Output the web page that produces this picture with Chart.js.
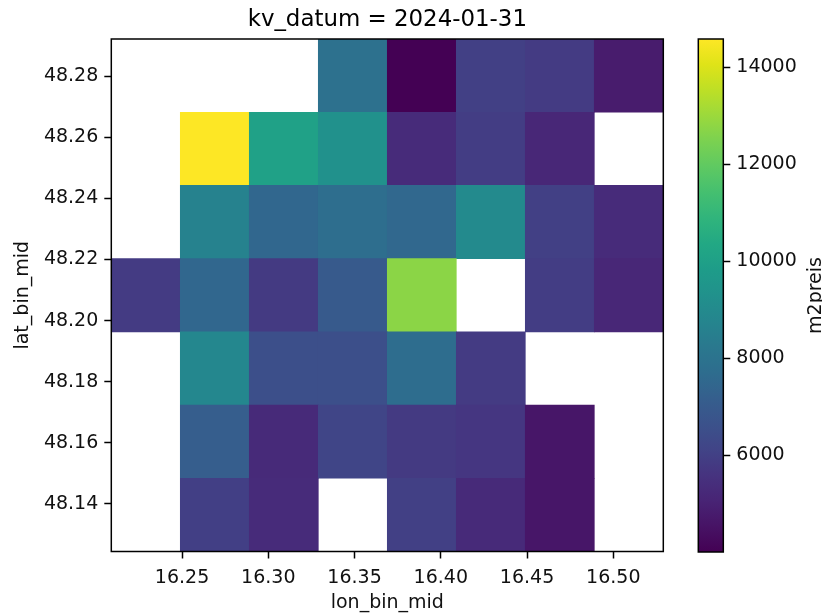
<!DOCTYPE html>
<html>
<head>
<meta charset="utf-8">
<title>m2preis heatmap</title>
<script src="https://cdn.jsdelivr.net/npm/chart.js@4.4.1/dist/chart.umd.min.js"></script>
<style>
  html, body { margin: 0; padding: 0; background: #fff; }
  #wrap { position: relative; width: 822px; height: 614px; overflow: hidden; }
  #heat { position: absolute; left: 0; top: 0; }
  #cbar { position: absolute; left: 690px; top: 0; }
</style>
</head>
<body>
<div id="wrap">
  <canvas id="heat" width="690" height="614"></canvas>
  <canvas id="cbar" width="132" height="614"></canvas>
</div>
<script>
// bin centres
const lonMid = [16.229, 16.269, 16.309, 16.349, 16.389, 16.429, 16.469, 16.509];
const latMid = [48.2803, 48.2563, 48.2323, 48.2083, 48.1843, 48.1603, 48.1363];
const lonStep = 0.04;
const latStep = 0.024;

// m2preis per cell, rows from north (top) to south, null = no data
const m2preis = [
  [null,  null,  null,  7900,  4000,  6000,  5850,  4800],
  [null,  14580, 10030, 9290,  5320,  5900,  5160,  null],
  [null,  8650,  7490,  7760,  7500,  8970,  6000,  5320],
  [5850,  7490,  5800,  6960,  12730, null,  5900,  5160],
  [null,  8870,  6540,  6540,  7700,  5850,  null,  null],
  [null,  7120,  5270,  6170,  5800,  5690,  4630,  null],
  [null,  5960,  5320,  null,  6000,  5270,  4630,  null]
];

const xTicks = [16.25, 16.30, 16.35, 16.40, 16.45, 16.50];
const yTicks = [48.14, 48.16, 48.18, 48.20, 48.22, 48.24, 48.26, 48.28];
const cbTicks = [6000, 8000, 10000, 12000, 14000];

const titleText = 'kv_datum = 2024-01-31';
const xLabel = 'lon_bin_mid';
const yLabel = 'lat_bin_mid';
const cbLabel = 'm2preis';

const FONT = '"DejaVu Sans", "Liberation Sans", sans-serif';

// viridis, sampled every 0.05
const VIR = [
  [68,1,84],[71,19,101],[72,36,117],[70,51,127],[65,68,135],[59,82,139],
  [53,95,141],[46,109,142],[42,120,142],[37,133,142],[33,145,140],[30,156,137],
  [34,168,132],[48,180,124],[68,191,112],[94,201,98],[122,209,81],[155,217,60],
  [189,223,38],[223,227,24],[253,231,37]
];
function viridis(t) {
  t = Math.max(0, Math.min(1, t));
  const f = t * (VIR.length - 1);
  const i = Math.min(VIR.length - 2, Math.floor(f));
  const k = f - i;
  const a = VIR[i], b = VIR[i + 1];
  const c = a.map((v, j) => Math.round(v + (b[j] - v) * k));
  return `rgb(${c[0]},${c[1]},${c[2]})`;
}

const allVals = m2preis.flat().filter(v => v != null);
const vmin = Math.min(...allVals);
const vmax = Math.max(...allVals);
const norm = v => (v - vmin) / (vmax - vmin);

// one floating bar per cell
const cells = [];
m2preis.forEach((row, r) => row.forEach((v, c) => {
  if (v == null) return;
  cells.push({ x: lonMid[c], y: [latMid[r] - latStep / 2, latMid[r] + latStep / 2], v });
}));

const tickFont = { family: FONT, size: 19 };
const tickGrid = { display: true, drawOnChartArea: false, drawTicks: true, tickLength: 7, tickWidth: 1.5, tickColor: '#000', offset: false };

// frame (all four spines) + title
const heatDeco = {
  id: 'heatDeco',
  afterDraw(chart) {
    const { ctx, chartArea: a } = chart;
    ctx.save();
    ctx.strokeStyle = '#000';
    ctx.lineWidth = 1.5;
    ctx.strokeRect(a.left, a.top, a.right - a.left, a.bottom - a.top);
    ctx.fillStyle = '#000';
    ctx.font = `22.9px ${FONT}`;
    ctx.textAlign = 'center';
    ctx.textBaseline = 'alphabetic';
    ctx.fillText(titleText, (a.left + a.right) / 2, 26);
    ctx.restore();
  }
};

new Chart(document.getElementById('heat'), {
  type: 'bar',
  data: {
    datasets: [{
      data: cells,
      backgroundColor: c => viridis(norm(c.raw.v)),
      borderWidth: 0,
      categoryPercentage: 1,
      barPercentage: 1,
      grouped: false
    }]
  },
  options: {
    responsive: false,
    animation: false,
    devicePixelRatio: 1,
    layout: { padding: { top: 39, right: 26.7, left: 0, bottom: 0 } },
    plugins: { legend: { display: false }, tooltip: { enabled: false } },
    scales: {
      x: {
        type: 'linear',
        offset: false,
        min: lonMid[0] - lonStep / 2,
        max: lonMid[lonMid.length - 1] + lonStep / 2,
        afterFit: s => { s.height = 62.5; },
        afterBuildTicks: s => { s.ticks = xTicks.map(v => ({ value: v })); },
        ticks: { font: tickFont, color: '#111', padding: 8, autoSkip: false, maxRotation: 0, callback: v => v.toFixed(2) },
        grid: tickGrid,
        border: { display: false },
        title: { display: true, text: xLabel, font: tickFont, color: '#111', padding: { top: 0, bottom: 0 } }
      },
      y: {
        type: 'linear',
        min: latMid[latMid.length - 1] - latStep / 2,
        max: latMid[0] + latStep / 2,
        afterFit: s => { s.width = 111.3; },
        afterBuildTicks: s => { s.ticks = yTicks.map(v => ({ value: v })); },
        ticks: { font: tickFont, color: '#111', padding: 6, autoSkip: false, callback: v => v.toFixed(2) },
        grid: tickGrid,
        border: { display: false },
        title: { display: true, text: yLabel, font: tickFont, color: '#111', padding: { top: 11.6, bottom: 0 } }
      }
    }
  },
  plugins: [heatDeco]
});

// colour bar
const cbarDeco = {
  id: 'cbarDeco',
  beforeDatasetsDraw(chart) {
    const { ctx, chartArea: a, scales: { y } } = chart;
    const y0 = y.getPixelForValue(vmin), y1 = y.getPixelForValue(vmax);
    const g = ctx.createLinearGradient(0, y0, 0, y1);
    for (let i = 0; i < VIR.length; i++) {
      const t = i / (VIR.length - 1);
      g.addColorStop(t, viridis(t));
    }
    ctx.save();
    ctx.fillStyle = g;
    ctx.fillRect(a.left, a.top, a.right - a.left, a.bottom - a.top);
    ctx.restore();
  },
  afterDraw(chart) {
    const { ctx, chartArea: a } = chart;
    ctx.save();
    ctx.strokeStyle = '#000';
    ctx.lineWidth = 1.5;
    ctx.strokeRect(a.left, a.top, a.right - a.left, a.bottom - a.top);
    ctx.translate(131, (a.top + a.bottom) / 2);
    ctx.rotate(-Math.PI / 2);
    ctx.fillStyle = '#111';
    ctx.font = `19px ${FONT}`;
    ctx.textAlign = 'center';
    ctx.textBaseline = 'alphabetic';
    ctx.fillText(cbLabel, 0, 0);
    ctx.restore();
  }
};

new Chart(document.getElementById('cbar'), {
  type: 'scatter',
  data: { datasets: [{ data: [], pointRadius: 0 }] },
  options: {
    responsive: false,
    animation: false,
    devicePixelRatio: 1,
    layout: { padding: { top: 39, left: 8.3, right: 0, bottom: 62 } },
    plugins: { legend: { display: false }, tooltip: { enabled: false } },
    scales: {
      x: { display: false, min: 0, max: 1 },
      y: {
        type: 'linear',
        position: 'right',
        min: vmin,
        max: vmax,
        afterFit: s => { s.width = 98.7; },
        afterBuildTicks: s => { s.ticks = cbTicks.map(v => ({ value: v })); },
        ticks: { font: tickFont, color: '#111', padding: 6, autoSkip: false, callback: v => String(v) },
        grid: tickGrid,
        border: { display: false }
      }
    }
  },
  plugins: [cbarDeco]
});
</script>
</body>
</html>
